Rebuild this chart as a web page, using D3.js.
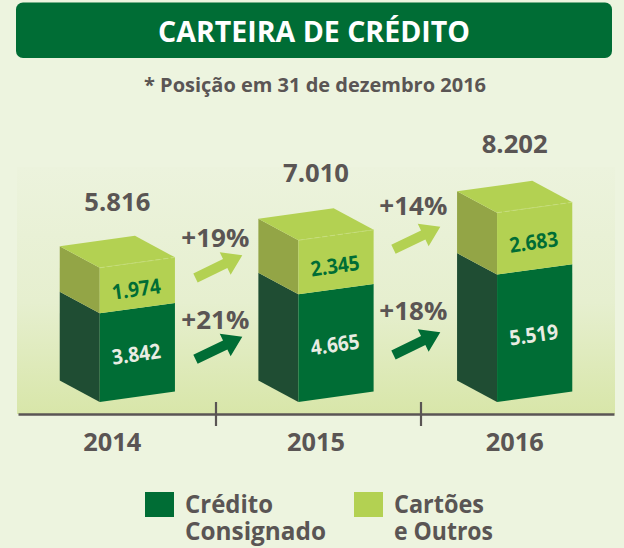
<!DOCTYPE html>
<html lang="pt">
<head>
<meta charset="utf-8">
<title>Carteira de crédito</title>
<script src="https://d3js.org/d3.v7.min.js"></script>
<style>
html, body { margin: 0; padding: 0; background: #edf4df; }
svg { display: block; }
text { font-family: "Open Sans", sans-serif; font-weight: 700; fill: #5a5554; }
</style>
</head>
<body>
<div id="chart"></div>
<script>
var years = ["2014", "2015", "2016"];
var consignado = [3842, 4665, 5519];
var cartoes = [1974, 2345, 2683];
var totals = [5816, 7010, 8202];
var growthCartoes = ["+19%", "+14%"];
var growthConsignado = ["+21%", "+18%"];
var legendLabels = [["Crédito", "Consignado"], ["Cartões", "e Outros"]];

var w = 624, h = 548;
var dark = "#006d35", darkSide = "#1f4d33", light = "#b3d152", lightSide = "#93a546", grey = "#5a5554";

// pt-BR style thousands
var fmt = d3.formatLocale({ decimal: ",", thousands: ".", grouping: [3], currency: ["", ""] }).format(",");

var svg = d3.select("#chart").append("svg").attr("width", w).attr("height", h);

var x = d3.scaleBand().domain(years).range([18, 614]).paddingInner(0.42).paddingOuter(0.21);
var y = d3.scaleLinear().domain([0, 8202]).range([402, 212.7]);

// fake 3d box
var depthX = 40, depthY = 21.5, skew = 10.4;
var frontW = x.bandwidth() - depthX;

var defs = svg.append("defs");
var grad = defs.append("linearGradient").attr("id", "panel").attr("x1", 0).attr("y1", 0).attr("x2", 0).attr("y2", 1);
grad.append("stop").attr("offset", 0).attr("stop-color", "#ecf3dd");
grad.append("stop").attr("offset", 0.55).attr("stop-color", "#e6efcf");
grad.append("stop").attr("offset", 1).attr("stop-color", "#d8e6a9");

svg.append("rect").attr("x", 17).attr("y", 167).attr("width", 598).attr("height", 247).attr("fill", "url(#panel)");

// title
svg.append("rect").attr("x", 16).attr("y", 2.5).attr("width", 596).attr("height", 55.5).attr("rx", 7).attr("fill", dark);
svg.append("text").attr("x", 314).attr("y", 42).attr("text-anchor", "middle")
	.attr("textLength", 312).attr("lengthAdjust", "spacingAndGlyphs")
	.style("font-size", "29px").style("fill", "#fff").text("CARTEIRA DE CRÉDITO");
svg.append("text").attr("x", 315).attr("y", 92).attr("text-anchor", "middle")
	.attr("textLength", 342).attr("lengthAdjust", "spacingAndGlyphs")
	.style("font-size", "20px").text("* Posição em 31 de dezembro 2016");

function poly(g, pts, fill) {
	g.append("polygon").attr("points", pts.map(function(p) { return p.join(","); }).join(" ")).attr("fill", fill);
}

function drawBox(g, x0, yBottom, yTop, front, side) {
	var xf = x0 + depthX, xr = xf + frontW;
	poly(g, [[x0, yBottom - depthY], [xf, yBottom], [xf, yTop], [x0, yTop - depthY]], side);
	poly(g, [[xf, yBottom], [xr, yBottom - skew], [xr, yTop - skew], [xf, yTop]], front);
}

var totalNudge = [-57, -58, -60];

years.forEach(function(yr, i) {
	var g = svg.append("g");
	var x0 = x(yr);
	var yMid = y(consignado[i]);
	var yTop = y(consignado[i] + cartoes[i]);
	var xf = x0 + depthX, xr = xf + frontW;
	drawBox(g, x0, y(0), yMid, dark, darkSide);
	drawBox(g, x0, yMid, yTop, light, lightSide);
	// lid
	poly(g, [[x0, yTop - depthY], [xf, yTop], [xr, yTop - skew], [xr - depthX, yTop - skew - depthY]], light);
	g.append("line").attr("x1", xf).attr("y1", yTop).attr("x2", xr).attr("y2", yTop - skew)
		.attr("stroke", "#c8de80").attr("stroke-width", 0.8).attr("stroke-dasharray", "5,3");

	var cx = xf + frontW / 2;
	var ang = Math.atan2(-skew, frontW) * 180 / Math.PI;
	g.append("text").attr("text-anchor", "middle").style("font-size", "21px").style("fill", "#e8ece2")
		.attr("transform", "translate(" + cx + "," + ((y(0) + yMid) / 2 - skew / 2 + 9) + ") rotate(" + ang + ")")
		.attr("textLength", 49).attr("lengthAdjust", "spacingAndGlyphs")
		.text(fmt(consignado[i]));
	g.append("text").attr("text-anchor", "middle").style("font-size", "21px").style("fill", dark)
		.attr("transform", "translate(" + cx + "," + ((yMid + yTop) / 2 - skew / 2 + 11) + ") rotate(" + ang + ")")
		.attr("textLength", 49).attr("lengthAdjust", "spacingAndGlyphs")
		.text(fmt(cartoes[i]));

	svg.append("text").attr("x", x0 + x.bandwidth() / 2).attr("y", yTop + totalNudge[i])
		.attr("text-anchor", "middle").style("font-size", "25px")
		.attr("textLength", 66).attr("lengthAdjust", "spacingAndGlyphs")
		.text(fmt(totals[i]));
});

// growth arrows, tail to tip along -26deg
function arrow(tipX, tipY, fill) {
	svg.append("path")
		.attr("transform", "translate(" + tipX + "," + tipY + ") rotate(-25.8)")
		.attr("d", "M0,0 L-19,-12.5 L-19,-5 L-52,-5 L-52,5 L-19,5 L-19,12.5 Z")
		.attr("fill", fill);
}
var arrowTipX = [242.3, 440.3];
var topTipY = [255.3, 226.7], lowTipY = [336.7, 332.3];
var topLabelY = [247, 215], lowLabelY = [329, 320];
growthCartoes.forEach(function(t, i) {
	arrow(arrowTipX[i], topTipY[i], light);
	arrow(arrowTipX[i], lowTipY[i], dark);
	var lx = arrowTipX[i] - 27;
	svg.append("text").attr("x", lx).attr("y", topLabelY[i]).attr("text-anchor", "middle")
		.style("font-size", "25px").attr("textLength", 68).attr("lengthAdjust", "spacingAndGlyphs").text(t);
	svg.append("text").attr("x", lx).attr("y", lowLabelY[i]).attr("text-anchor", "middle")
		.style("font-size", "25px").attr("textLength", 68).attr("lengthAdjust", "spacingAndGlyphs").text(growthConsignado[i]);
});

// axis
var axis = svg.append("g").attr("transform", "translate(0,414)")
	.call(d3.axisBottom(x).tickSize(0).tickPadding(19));
axis.select(".domain").attr("stroke", grey).attr("stroke-width", 2.5);
axis.selectAll("text").style("font-size", "25px").style("font-family", null)
	.attr("textLength", 58).attr("lengthAdjust", "spacingAndGlyphs")
	.attr("dx", function(d) { return d == "2014" ? -5 : 0; });
[216, 421].forEach(function(sx) {
	svg.append("line").attr("x1", sx).attr("x2", sx).attr("y1", 402).attr("y2", 426)
		.attr("stroke", grey).attr("stroke-width", 2.2);
});

// legend
var legendX = [145, 354];
var legendW = [[88, 141], [90, 99]];
legendLabels.forEach(function(lines, i) {
	svg.append("rect").attr("x", legendX[i]).attr("y", 492).attr("width", 29).attr("height", 25)
		.attr("fill", i == 0 ? dark : light);
	lines.forEach(function(t, j) {
		svg.append("text").attr("x", legendX[i] + 40).attr("y", 513 + j * 27)
			.style("font-size", "25px")
			.attr("textLength", legendW[i][j]).attr("lengthAdjust", "spacingAndGlyphs").text(t);
	});
});
</script>
</body>
</html>
